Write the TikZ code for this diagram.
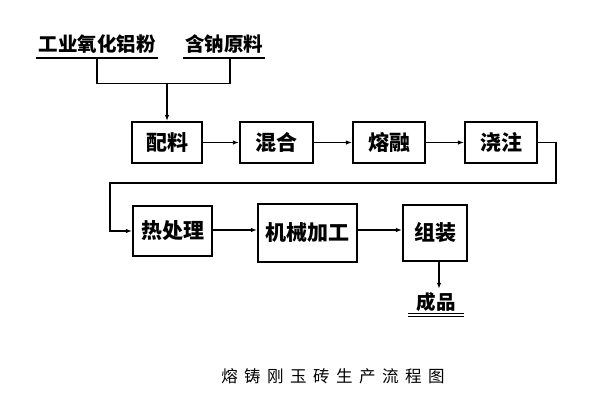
\documentclass[tikz,border=0pt]{standalone}
\usepackage{fontspec}
\newfontfamily\cjk{Noto Sans CJK SC}
\usetikzlibrary{arrows.meta}

\tikzset{
  stepbox/.style={draw, line width=2.2pt, inner sep=0pt, font=\cjk\bfseries\fontsize{21}{22}\selectfont},
  rawtext/.style={inner xsep=2pt, inner ysep=0pt, minimum height=28pt, font=\cjk\bfseries\fontsize{19.5}{21}\selectfont},
  flow/.style={line width=1.3pt, -{Latex[length=6pt,width=4.5pt]}},
}

\begin{document}
\begin{tikzpicture}[x=1pt, y=-1pt]
\useasboundingbox (0,0) rectangle (602,402);

\node[rawtext] (alumina) at (97,44) {工业氧化铝粉};
\node[rawtext] (sodium) at (224,44) {含钠原料};
\draw[line width=2pt] (alumina.south west) -- (alumina.south east);
\draw[line width=2pt] (sodium.south west) -- (sodium.south east);

\node[stepbox, minimum width=70pt, minimum height=41pt] (peiliao) at (167,142.5) {配料};
\node[stepbox, minimum width=73pt, minimum height=41pt] (hunhe) at (276.5,142.5) {混合};
\node[stepbox, minimum width=72pt, minimum height=41pt] (rongrong) at (389,142.5) {熔融};
\node[stepbox, minimum width=72pt, minimum height=41pt] (jiaozhu) at (501,142.5) {浇注};

\node[stepbox, minimum width=79pt, minimum height=50pt] (rechuli) at (172.5,231) {热处理};
\node[stepbox, minimum width=99pt, minimum height=58pt] (jixie) at (307.5,233) {机械加工};
\node[stepbox, minimum width=64pt, minimum height=56pt] (zuzhuang) at (435,233) {组装};

\node[rawtext, minimum height=26pt, minimum width=55pt] (chengpin) at (436,302) {成品};
\draw[line width=1.2pt, double distance=1.5pt] (chengpin.south west) -- (chengpin.south east);

\node[font=\cjk\fontsize{16.5}{18}\selectfont] (title) at (333,376) {熔\hspace{6.5pt}铸\hspace{6.5pt}刚\hspace{6.5pt}玉\hspace{6.5pt}砖\hspace{6.5pt}生\hspace{6.5pt}产\hspace{6.5pt}流\hspace{6.5pt}程\hspace{6.5pt}图};

\coordinate (merge) at (peiliao.north |- 0,83);
\coordinate (turn) at (110,183);

\draw[line width=1.3pt] (alumina.south) -- ++(0,25) -| ([xshift=6pt]sodium.south);
\draw[flow] (merge) -- (peiliao.north);
\draw[flow] (peiliao) -- (hunhe);
\draw[flow] (hunhe) -- (rongrong);
\draw[flow] (rongrong) -- (jiaozhu);
\draw[flow] (jiaozhu.east) -| ++(18,40.5) -| (turn) |- (rechuli.west);
\draw[flow] (rechuli.east |- 0,230) -- (jixie.west |- 0,230);
\draw[flow] (jixie.east |- 0,230) -- (zuzhuang.west |- 0,230);
\draw[flow] ([xshift=4pt]zuzhuang.south) -- ([xshift=4pt]zuzhuang.south |- chengpin.north);
\end{tikzpicture}
\end{document}
